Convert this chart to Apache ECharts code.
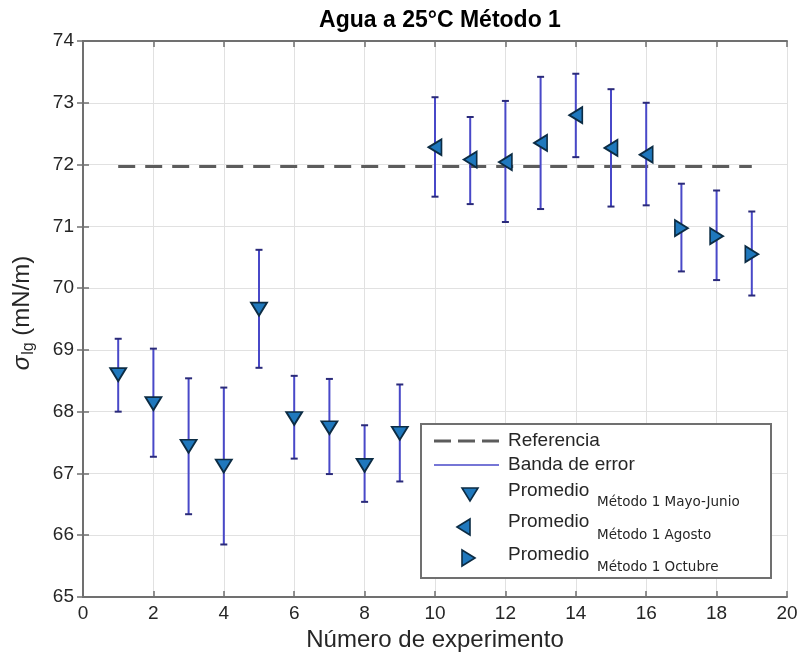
<!DOCTYPE html>
<html>
<head>
<meta charset="utf-8">
<script src="https://cdn.jsdelivr.net/npm/echarts@6/dist/echarts.min.js"></script>
<style>
  html, body { margin: 0; padding: 0; background: #ffffff; }
  #chart { width: 801px; height: 663px; }
</style>
</head>
<body>
<div id="chart"></div>
<script>
// Experiment numbers per measurement campaign
const expMayoJunio = [1, 2, 3, 4, 5, 6, 7, 8, 9];
const expAgosto = [10, 11, 12, 13, 14, 15, 16];
const expOctubre = [17, 18, 19];

// Mean surface tension (mN/m) per campaign
const promedioMayoJunio = [68.60, 68.13, 67.44, 67.12, 69.66, 67.89, 67.74, 67.13, 67.65];
const promedioAgosto = [72.28, 72.08, 72.04, 72.35, 72.80, 72.27, 72.16];
const promedioOctubre = [70.97, 70.84, 70.55];

// Error band limits for experiments 1..19
const experimentos = [1, 2, 3, 4, 5, 6, 7, 8, 9, 10, 11, 12, 13, 14, 15, 16, 17, 18, 19];
const bandaSuperior = [69.18, 69.02, 68.54, 68.39, 70.62, 68.58, 68.53, 67.78, 68.44,
                       73.09, 72.77, 73.03, 73.42, 73.47, 73.22, 73.00, 71.69, 71.58, 71.24];
const bandaInferior = [68.00, 67.27, 66.34, 65.85, 68.71, 67.24, 66.99, 66.54, 66.87,
                       71.48, 71.36, 71.07, 71.28, 72.12, 71.32, 71.34, 70.27, 70.13, 69.88];

// Reference value for water at 25 °C
const referenciaValor = 71.97;
const referenciaDesde = 1;
const referenciaHasta = 19;

// Axis ranges
const xMin = 0, xMax = 20, xPaso = 2;
const yMin = 65, yMax = 74, yPaso = 1;

const FONT = "'Liberation Sans', Arial, Helvetica, sans-serif";
const SUBFONT = "'DejaVu Sans', 'Liberation Sans', sans-serif";
const TEXT = '#262626';
const BOX = '#707070';
const GRID = '#e1e1e1';
const BAR = '#4848c8';
const FILL = '#1f78bd';
const EDGE = '#0c2c44';

const zip = (xs, ys) => xs.map((x, i) => [x, ys[i]]);

const chart = echarts.init(document.getElementById('chart'), null, { renderer: 'canvas' });

const axisBase = {
  axisLine: { show: true, lineStyle: { color: BOX, width: 2 } },
  axisTick: { show: true, inside: true, length: 6, lineStyle: { color: BOX, width: 1.5 } },
};

// Legend box contents (drawn in the lower right corner of the plot area)
const LZ = 100;
const legendChildren = [
  { type: 'rect', z: LZ, shape: { x: 0, y: 0, width: 350, height: 154 },
    style: { fill: '#ffffff', stroke: BOX, lineWidth: 2 } },
  { type: 'line', z: LZ + 1, shape: { x1: 13, y1: 17, x2: 78, y2: 17 },
    style: { stroke: '#5c5c5c', lineWidth: 3, lineDash: [17, 7] } },
  { type: 'text', z: LZ + 1, x: 87, y: 17, style: { text: 'Referencia', font: '19px ' + FONT, fill: TEXT, verticalAlign: 'middle' } },
  { type: 'line', z: LZ + 1, shape: { x1: 13, y1: 41, x2: 78, y2: 41 },
    style: { stroke: BAR, lineWidth: 1.5 } },
  { type: 'text', z: LZ + 1, x: 87, y: 41, style: { text: 'Banda de error', font: '19px ' + FONT, fill: TEXT, verticalAlign: 'middle' } },
  { type: 'polygon', z: LZ + 1, shape: { points: [[41, 64], [57, 64], [49, 77]] },
    style: { fill: FILL, stroke: EDGE, lineWidth: 1.6 } },
  { type: 'text', z: LZ + 1, x: 87, y: 67, style: { text: 'Promedio', font: '19px ' + FONT, fill: TEXT, verticalAlign: 'middle' } },
  { type: 'text', z: LZ + 1, x: 176, y: 78, style: { text: 'Método 1 Mayo-Junio', font: '13.5px ' + SUBFONT, fill: TEXT, verticalAlign: 'middle' } },
  { type: 'polygon', z: LZ + 1, shape: { points: [[36, 103], [49, 95], [49, 111]] },
    style: { fill: FILL, stroke: EDGE, lineWidth: 1.6 } },
  { type: 'text', z: LZ + 1, x: 87, y: 98, style: { text: 'Promedio', font: '19px ' + FONT, fill: TEXT, verticalAlign: 'middle' } },
  { type: 'text', z: LZ + 1, x: 176, y: 111, style: { text: 'Método 1 Agosto', font: '13.5px ' + SUBFONT, fill: TEXT, verticalAlign: 'middle' } },
  { type: 'polygon', z: LZ + 1, shape: { points: [[54, 134], [41, 126], [41, 142]] },
    style: { fill: FILL, stroke: EDGE, lineWidth: 1.6 } },
  { type: 'text', z: LZ + 1, x: 87, y: 131, style: { text: 'Promedio', font: '19px ' + FONT, fill: TEXT, verticalAlign: 'middle' } },
  { type: 'text', z: LZ + 1, x: 176, y: 143, style: { text: 'Método 1 Octubre', font: '13.5px ' + SUBFONT, fill: TEXT, verticalAlign: 'middle' } }
];

const option = {
  animation: false,
  backgroundColor: '#ffffff',
  title: {
    text: 'Agua a 25°C Método 1',
    left: 435, top: 4, textAlign: 'center',
    textStyle: { fontFamily: FONT, fontSize: 23, fontWeight: 'bold', color: '#000000' }
  },
  grid: { left: 83, top: 41, width: 704, height: 556, containLabel: false },
  xAxis: [
    Object.assign({}, axisBase, {
      type: 'value', min: xMin, max: xMax, interval: xPaso, position: 'bottom',
      name: 'Número de experimento', nameLocation: 'middle', nameGap: 29,
      nameTextStyle: { fontFamily: FONT, fontSize: 24, color: TEXT },
      axisLabel: { fontFamily: FONT, fontSize: 19, color: TEXT, margin: 7 },
      splitLine: { show: true, lineStyle: { color: GRID, width: 1 } }
    }),
    Object.assign({}, axisBase, {
      type: 'value', min: xMin, max: xMax, interval: xPaso, position: 'top',
      axisLabel: { show: false }, splitLine: { show: false }
    })
  ],
  yAxis: [
    Object.assign({}, axisBase, {
      type: 'value', min: yMin, max: yMax, interval: yPaso, position: 'left',
      name: '{s|σ}{sub|lg}{n| (mN/m)}', nameLocation: 'middle', nameGap: 46, nameRotate: 90,
      nameTextStyle: {
        fontFamily: FONT, fontSize: 24, color: TEXT, padding: [0, 0, 0, 12],
        rich: {
          s: { fontFamily: FONT, fontSize: 24, fontStyle: 'italic', color: TEXT },
          sub: { fontFamily: FONT, fontSize: 16, color: TEXT, padding: [14, 0, 0, 1] },
          n: { fontFamily: FONT, fontSize: 24, color: TEXT }
        }
      },
      axisLabel: { fontFamily: FONT, fontSize: 19, color: TEXT, margin: 9 },
      splitLine: { show: true, lineStyle: { color: GRID, width: 1 } }
    }),
    Object.assign({}, axisBase, {
      type: 'value', min: yMin, max: yMax, interval: yPaso, position: 'right',
      axisLabel: { show: false }, splitLine: { show: false }
    })
  ],
  series: [
    {
      name: 'Referencia', type: 'line', xAxisIndex: 0, yAxisIndex: 0,
      data: [[referenciaDesde, referenciaValor], [referenciaHasta, referenciaValor]],
      symbol: 'none', silent: true, z: 2,
      lineStyle: { color: '#5c5c5c', width: 3, type: [17, 10] }
    },
    {
      name: 'Banda de error', type: 'custom', xAxisIndex: 0, yAxisIndex: 0, z: 3,
      data: experimentos.map((x, i) => [x, bandaInferior[i], bandaSuperior[i]]),
      renderItem: function (params, api) {
        const x = api.value(0);
        const top = api.coord([x, api.value(2)]);
        const bot = api.coord([x, api.value(1)]);
        const cap = 3.5;
        const st = { stroke: BAR, lineWidth: 2 };
        const capSt = { stroke: '#2a2a7a', lineWidth: 2 };
        return {
          type: 'group',
          children: [
            { type: 'line', shape: { x1: top[0], y1: top[1], x2: bot[0], y2: bot[1] }, style: st },
            { type: 'line', shape: { x1: top[0] - cap, y1: top[1], x2: top[0] + cap, y2: top[1] }, style: capSt },
            { type: 'line', shape: { x1: bot[0] - cap, y1: bot[1], x2: bot[0] + cap, y2: bot[1] }, style: capSt }
          ]
        };
      }
    },
    {
      name: 'Mayo-Junio', type: 'scatter', z: 5,
      data: zip(expMayoJunio, promedioMayoJunio),
      symbol: 'triangle', symbolSize: [16, 13], symbolRotate: 180,
      itemStyle: { color: FILL, borderColor: EDGE, borderWidth: 1.8, opacity: 1 }
    },
    {
      name: 'Agosto', type: 'scatter', z: 5,
      data: zip(expAgosto, promedioAgosto),
      symbol: 'triangle', symbolSize: [16, 13], symbolRotate: 90,
      itemStyle: { color: FILL, borderColor: EDGE, borderWidth: 1.8, opacity: 1 }
    },
    {
      name: 'Octubre', type: 'scatter', z: 5,
      data: zip(expOctubre, promedioOctubre),
      symbol: 'triangle', symbolSize: [16, 13], symbolRotate: -90,
      itemStyle: { color: FILL, borderColor: EDGE, borderWidth: 1.8, opacity: 1 }
    }
  ],
  graphic: [
    { type: 'group', left: 420, top: 423, z: LZ, children: legendChildren }
  ]
};

chart.setOption(option);
</script>
</body>
</html>
